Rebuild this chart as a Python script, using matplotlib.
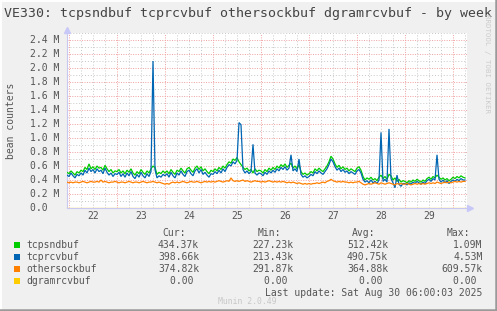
import numpy as np
import matplotlib
matplotlib.use('Agg')
import matplotlib.pyplot as plt
from matplotlib.lines import Line2D
from matplotlib.ticker import MultipleLocator, FixedLocator

# hourly samples (in M) from Aug 21 23:00 up to Aug 30 06:00
tcpsndbuf = [0.51,
    0.49, 0.53, 0.50, 0.47, 0.52, 0.50, 0.54, 0.52, 0.58, 0.55, 0.63, 0.56, 0.59, 0.55, 0.60, 0.57, 0.58, 0.54, 0.61, 0.56, 0.52, 0.55, 0.50, 0.53,
    0.52, 0.55, 0.50, 0.53, 0.49, 0.54, 0.51, 0.56, 0.50, 0.47, 0.52, 0.49, 0.55, 0.51, 0.48, 0.53, 0.50, 0.56, 0.60, 0.58, 0.48, 0.51, 0.49, 0.53,
    0.50, 0.53, 0.49, 0.55, 0.51, 0.48, 0.54, 0.52, 0.57, 0.53, 0.50, 0.56, 0.58, 0.54, 0.51, 0.57, 0.60, 0.55, 0.59, 0.53, 0.56, 0.52, 0.49, 0.54,
    0.52, 0.56, 0.53, 0.58, 0.55, 0.60, 0.57, 0.62, 0.66, 0.64, 0.70, 0.68, 0.72, 0.66, 0.62, 0.58, 0.55, 0.57, 0.53, 0.55, 0.50, 0.56, 0.52, 0.54,
    0.53, 0.50, 0.55, 0.52, 0.57, 0.54, 0.58, 0.55, 0.60, 0.57, 0.62, 0.59, 0.63, 0.58, 0.61, 0.64, 0.57, 0.60, 0.56, 0.62, 0.52, 0.48, 0.50, 0.47,
    0.49, 0.52, 0.50, 0.56, 0.53, 0.57, 0.54, 0.52, 0.56, 0.60, 0.66, 0.74, 0.70, 0.63, 0.58, 0.61, 0.56, 0.59, 0.55, 0.57, 0.53, 0.56, 0.54, 0.52,
    0.57, 0.59, 0.54, 0.45, 0.40, 0.43, 0.41, 0.44, 0.40, 0.42, 0.39, 0.44, 0.47, 0.42, 0.45, 0.41, 0.48, 0.46, 0.40, 0.43, 0.38, 0.41, 0.37, 0.39,
    0.38, 0.36, 0.39, 0.37, 0.40, 0.38, 0.41, 0.39, 0.37, 0.40, 0.38, 0.42, 0.44, 0.41, 0.45, 0.43, 0.47, 0.44, 0.41, 0.43, 0.40, 0.42, 0.39, 0.41,
    0.44, 0.42, 0.45, 0.43, 0.46, 0.44, 0.43]

tcprcvbuf = [0.47,
    0.45, 0.50, 0.46, 0.43, 0.48, 0.46, 0.50, 0.47, 0.54, 0.50, 0.57, 0.52, 0.55, 0.50, 0.56, 0.52, 0.54, 0.49, 0.57, 0.51, 0.47, 0.50, 0.45, 0.49,
    0.48, 0.51, 0.45, 0.49, 0.44, 0.50, 0.46, 0.52, 0.45, 0.42, 0.48, 0.44, 0.51, 0.46, 0.43, 0.49, 0.45, 0.52, 2.10, 0.55, 0.43, 0.46, 0.44, 0.48,
    0.46, 0.49, 0.44, 0.51, 0.46, 0.43, 0.50, 0.47, 0.53, 0.48, 0.45, 0.52, 0.54, 0.49, 0.46, 0.53, 0.56, 0.50, 0.55, 0.48, 0.51, 0.47, 0.44, 0.49,
    0.48, 0.52, 0.49, 0.54, 0.50, 0.56, 0.52, 0.58, 0.62, 0.60, 0.66, 0.63, 0.68, 1.22, 1.19, 0.55, 0.50, 0.53, 0.49, 0.52, 0.91, 0.50, 0.47, 0.50,
    0.49, 0.46, 0.51, 0.48, 0.53, 0.50, 0.54, 0.51, 0.56, 0.53, 0.58, 0.55, 0.59, 0.54, 0.57, 0.76, 0.53, 0.56, 0.52, 0.70, 0.48, 0.44, 0.46, 0.43,
    0.45, 0.48, 0.46, 0.52, 0.49, 0.53, 0.50, 0.48, 0.52, 0.56, 0.62, 0.70, 0.66, 0.59, 0.54, 0.57, 0.52, 0.55, 0.51, 0.53, 0.49, 0.52, 0.50, 0.48,
    0.53, 0.55, 0.50, 0.41, 0.37, 0.39, 0.36, 0.40, 0.36, 0.38, 0.35, 0.40, 1.08, 0.38, 0.41, 0.37, 1.13, 0.42, 0.36, 0.29, 0.47, 0.34, 0.31, 0.35,
    0.35, 0.33, 0.36, 0.34, 0.37, 0.35, 0.38, 0.36, 0.34, 0.37, 0.35, 0.39, 0.41, 0.38, 0.42, 0.40, 0.76, 0.41, 0.37, 0.40, 0.36, 0.39, 0.35, 0.38,
    0.40, 0.38, 0.41, 0.39, 0.42, 0.40, 0.40]

othersockbuf = [0.37,
    0.36, 0.37, 0.36, 0.37, 0.37, 0.36, 0.37, 0.38, 0.37, 0.36, 0.37, 0.38, 0.37, 0.37, 0.38, 0.37, 0.40, 0.37, 0.38, 0.37, 0.36, 0.37, 0.37, 0.38,
    0.37, 0.36, 0.37, 0.37, 0.36, 0.37, 0.38, 0.37, 0.36, 0.37, 0.37, 0.36, 0.37, 0.38, 0.37, 0.36, 0.37, 0.37, 0.38, 0.37, 0.36, 0.37, 0.36, 0.35,
    0.34, 0.35, 0.34, 0.36, 0.37, 0.36, 0.37, 0.36, 0.37, 0.38, 0.37, 0.36, 0.37, 0.38, 0.37, 0.37, 0.38, 0.37, 0.36, 0.37, 0.38, 0.37, 0.38, 0.37,
    0.38, 0.37, 0.38, 0.39, 0.38, 0.37, 0.38, 0.39, 0.38, 0.43, 0.39, 0.38, 0.39, 0.38, 0.39, 0.40, 0.38, 0.39, 0.38, 0.37, 0.38, 0.39, 0.38, 0.38,
    0.37, 0.38, 0.37, 0.38, 0.39, 0.38, 0.37, 0.38, 0.37, 0.38, 0.37, 0.38, 0.37, 0.36, 0.37, 0.36, 0.37, 0.36, 0.35, 0.36, 0.35, 0.34, 0.35, 0.34,
    0.35, 0.34, 0.35, 0.35, 0.36, 0.35, 0.36, 0.37, 0.36, 0.38, 0.39, 0.41, 0.39, 0.38, 0.37, 0.38, 0.37, 0.38, 0.37, 0.37, 0.36, 0.37, 0.36, 0.37,
    0.37, 0.38, 0.36, 0.34, 0.33, 0.34, 0.35, 0.34, 0.35, 0.36, 0.35, 0.34, 0.36, 0.35, 0.34, 0.35, 0.36, 0.35, 0.34, 0.33, 0.35, 0.34, 0.35, 0.34,
    0.34, 0.35, 0.34, 0.33, 0.34, 0.35, 0.34, 0.35, 0.34, 0.35, 0.34, 0.35, 0.36, 0.35, 0.36, 0.35, 0.37, 0.36, 0.35, 0.36, 0.37, 0.36, 0.37, 0.36,
    0.37, 0.38, 0.37, 0.38, 0.37, 0.38, 0.38]

dgramrcvbuf = [0.0] * len(tcpsndbuf)

day_labels = ['22', '23', '24', '25', '26', '27', '28', '29']

names = ['tcpsndbuf', 'tcprcvbuf', 'othersockbuf', 'dgramrcvbuf']
colors = ['#00CC00', '#0066B3', '#FF8000', '#FFCC00']
cur = ['434.37k', '398.66k', '374.82k', '0.00 ']
mins = ['227.23k', '213.43k', '291.87k', '0.00 ']
avgs = ['512.42k', '490.75k', '364.88k', '0.00 ']
maxs = ['1.09M', '4.53M', '609.57k', '0.00 ']

W, H = 497, 311
mono = 'DejaVu Sans Mono'
txtcol = '#555555'

fig = plt.figure(figsize=(W / 100.0, H / 100.0), dpi=100, facecolor='#F0F0F0')

def fx(px):
    return px / float(W)

def fy(py):
    return 1 - py / float(H)

ax = fig.add_axes([fx(67), fy(208), fx(400), 175.0 / H])
ax.set_facecolor('white')

# time axis in days since Aug 22 00:00, one sample per hour starting 23:00 on Aug 21
t = (np.arange(len(tcpsndbuf)) - 1) / 24.0
series = [tcpsndbuf, tcprcvbuf, othersockbuf, dgramrcvbuf]
for vals, c in zip(series, colors):
    ax.plot(t, np.array(vals) * 1e6, color=c, lw=0.9, zorder=3, solid_joinstyle='miter')

ax.set_xlim(-2 / 48.0, 398 / 48.0)
ax.set_ylim(0, 2.5e6)

# grid
ax.yaxis.set_major_locator(FixedLocator(np.arange(0, 2.41e6, 0.2e6)))
ax.yaxis.set_minor_locator(MultipleLocator(0.1e6))
ax.xaxis.set_major_locator(FixedLocator(np.arange(0, 9)))
ax.xaxis.set_minor_locator(MultipleLocator(0.25))
ax.grid(which='minor', color='#C8C8C8', lw=0.7, ls=(0, (1, 2)), zorder=1)
ax.grid(which='major', color='#F0A0A0', lw=0.7, ls=(0, (1, 1.5)), zorder=1)
ax.tick_params(which='both', length=0)
ax.set_xticklabels([])
ax.set_yticklabels([])

for s in ['top', 'right']:
    ax.spines[s].set_visible(False)
ax.spines['left'].set_color('#C8C8F0')
ax.spines['bottom'].set_color('#C8C8F0')

# axis arrows
ax.plot([-2 / 48.0], [2.54e6], marker='^', color='#C8C8F8', ms=5, clip_on=False, zorder=4)
ax.plot([401 / 48.0], [0], marker='>', color='#C8C8F8', ms=5, clip_on=False, zorder=4)

# y tick labels (rrdtool style)
for v in np.arange(0, 2.41e6, 0.2e6):
    lab = '0.0  ' if v == 0 else '%.1f M' % (v / 1e6)
    ax.text(-8 / 400.0, v, lab, transform=ax.get_yaxis_transform(), ha='right', va='center',
            family=mono, fontsize=7, color=txtcol)

# x tick labels at noon
for i, lab in enumerate(day_labels):
    ax.text(i + 0.5, -8 / 175.0, lab, transform=ax.get_xaxis_transform(), ha='center', va='center',
            family=mono, fontsize=7, color=txtcol)

fig.text(fx(248), fy(13.5), 'VE330: tcpsndbuf tcprcvbuf othersockbuf dgramrcvbuf - by week',
         ha='center', va='center', family=mono, fontsize=9.5, color='#444444')
fig.text(fx(11), fy(121), 'bean counters', rotation=90, ha='center', va='center',
         family=mono, fontsize=7, color=txtcol)
fig.text(fx(487), fy(64), 'RRDTOOL / TOBI OETIKER', rotation=270, ha='center', va='center',
         family=mono, fontsize=5.3, color='#CCCCCC')

# legend table
fig.text(fx(186), fy(233), 'Cur:', ha='right', va='center', family=mono, fontsize=7, color=txtcol)
fig.text(fx(281), fy(233), 'Min:', ha='right', va='center', family=mono, fontsize=7, color=txtcol)
fig.text(fx(375.5), fy(233), 'Avg:', ha='right', va='center', family=mono, fontsize=7, color=txtcol)
fig.text(fx(470), fy(233), 'Max:', ha='right', va='center', family=mono, fontsize=7, color=txtcol)
rows_y = [245, 257, 269, 281]
for i in range(4):
    y = fy(rows_y[i])
    fig.patches.append(plt.Rectangle((fx(14), fy(rows_y[i] + 3)), fx(6), 6.0 / H,
                                     transform=fig.transFigure, facecolor=colors[i], edgecolor='none'))
    fig.text(fx(26.5), y, names[i], ha='left', va='center', family=mono, fontsize=7, color=txtcol)
    fig.text(fx(199), y, cur[i], ha='right', va='center', family=mono, fontsize=7, color=txtcol)
    fig.text(fx(293.5), y, mins[i], ha='right', va='center', family=mono, fontsize=7, color=txtcol)
    fig.text(fx(388), y, avgs[i], ha='right', va='center', family=mono, fontsize=7, color=txtcol)
    fig.text(fx(482.5), y, maxs[i], ha='right', va='center', family=mono, fontsize=7, color=txtcol)

fig.text(fx(482.5), fy(293), 'Last update: Sat Aug 30 06:00:03 2025', ha='right', va='center',
         family=mono, fontsize=7, color=txtcol)
fig.text(fx(247), fy(301), 'Munin 2.0.49', ha='center', va='center', family=mono, fontsize=5.9,
         color='#C8C8C8')

# 3d-ish frame around the image
fig.add_artist(Line2D([fx(0.5), fx(0.5)], [0, 1], color='white', lw=1.4, transform=fig.transFigure))
fig.add_artist(Line2D([0, 1], [fy(0.5), fy(0.5)], color='white', lw=1.4, transform=fig.transFigure))
fig.add_artist(Line2D([fx(496), fx(496)], [0, 1], color='#9A9A9A', lw=1.8, transform=fig.transFigure))
fig.add_artist(Line2D([0, 1], [fy(310), fy(310)], color='#9A9A9A', lw=1.8, transform=fig.transFigure))

fig.savefig('out.png', dpi=100, facecolor=fig.get_facecolor())
